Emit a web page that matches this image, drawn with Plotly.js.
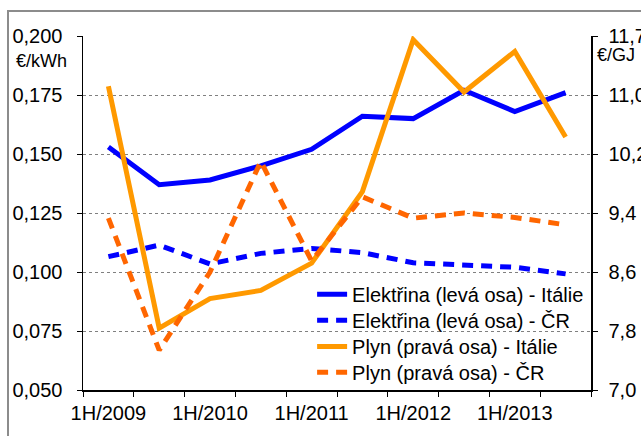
<!DOCTYPE html>
<html>
<head>
<meta charset="utf-8">
<script src="https://cdn.plot.ly/plotly-3.0.1.min.js"></script>
<style>
  html, body { margin: 0; padding: 0; background: #fff; overflow: hidden; }
  #frame { position: absolute; left: 7px; top: 10px; width: 700px; height: 500px;
           border-left: 2px solid #8c8c8c; border-top: 2px solid #8c8c8c; }
  #chart { position: absolute; left: 0; top: 0; width: 641px; height: 436px; }
</style>
</head>
<body>
<div id="frame"></div>
<div id="chart"></div>
<script>
// Categories (half-years)
const categories = ['1H/2009','2H/2009','1H/2010','2H/2010','1H/2011','2H/2011','1H/2012','2H/2012','1H/2013','2H/2013'];
const xLabelShown = ['1H/2009','1H/2010','1H/2011','1H/2012','1H/2013'];

// Electricity prices, €/kWh (left axis)
const elecItaly = [0.153, 0.137, 0.139, 0.145, 0.152, 0.166, 0.165, 0.177, 0.168, 0.176];
const elecCZ    = [0.1065, 0.1114, 0.1034, 0.1079, 0.1100, 0.1082, 0.1039, 0.1028, 0.1020, 0.0992];

// Gas prices, €/GJ (right axis)
const gasItaly = [11.12, 7.84, 8.24, 8.35, 8.72, 9.69, 11.75, 11.04, 11.59, 10.43];
const gasCZ    = [9.33, 7.54, 8.60, 10.10, 8.75, 9.62, 9.33, 9.40, 9.34, 9.24];

// Axis tick labels
const leftTicks = [0.050, 0.075, 0.100, 0.125, 0.150, 0.175, 0.200];
const rightTickVals = [7.0, 7.8, 8.6, 9.4, 10.2, 11.0, 11.8];
const rightTickText = ['7,0', '7,8', '8,6', '9,4', '10,2', '11,0', '11,7'];

const xIdx = categories.map((_, i) => i);
const labelIdx = xLabelShown.map(l => categories.indexOf(l));
const boundaries = categories.map((_, i) => i - 0.5).concat([categories.length - 0.5]);

const FONT = 'Liberation Sans, Arial, sans-serif';

const traces = [
  { x: xIdx, y: elecItaly, name: 'Elektřina (levá osa) - Itálie', type: 'scatter', mode: 'lines',
    line: { color: '#0000FF', width: 5 }, yaxis: 'y', legend: 'legend', text: categories, hoverinfo: 'text+y' },
  { x: xIdx, y: elecCZ, name: 'Elektřina (levá osa) - ČR', type: 'scatter', mode: 'lines',
    line: { color: '#0000FF', width: 5, dash: '11px,8px' }, yaxis: 'y', legend: 'legend2', text: categories, hoverinfo: 'text+y' },
  { x: xIdx, y: gasItaly, name: 'Plyn (pravá osa) - Itálie', type: 'scatter', mode: 'lines',
    line: { color: '#FF9900', width: 5 }, yaxis: 'y2', legend: 'legend3', text: categories, hoverinfo: 'text+y' },
  { x: xIdx, y: gasCZ, name: 'Plyn (pravá osa) - ČR', type: 'scatter', mode: 'lines',
    line: { color: '#FF6600', width: 5, dash: '11px,8px' }, yaxis: 'y2', legend: 'legend4', text: categories, hoverinfo: 'text+y' }
];

function legendAt(y) {
  return { x: 0.451, y: y, xanchor: 'left', yanchor: 'middle', bgcolor: 'rgba(0,0,0,0)',
           font: { family: FONT, size: 20, color: '#000' }, itemwidth: 30 };
}

const layout = {
  width: 641, height: 436,
  paper_bgcolor: 'rgba(0,0,0,0)', plot_bgcolor: 'rgba(0,0,0,0)',
  separators: ', ',
  font: { family: FONT, size: 20, color: '#000' },
  margin: { l: 83, r: 50, t: 36, b: 46, pad: 0 },
  showlegend: true,
  legend: legendAt(0.2706),
  legend2: legendAt(0.1969),
  legend3: legendAt(0.1229),
  legend4: legendAt(0.050),
  xaxis: {
    type: 'linear', range: [-0.5, categories.length - 0.5], fixedrange: true,
    tickmode: 'array', tickvals: labelIdx, ticktext: xLabelShown, ticks: '',
    showgrid: false, zeroline: false, showline: true, linecolor: '#000', linewidth: 1.5,
    ticklabelstandoff: 4,
    tickfont: { family: FONT, size: 20, color: '#000' },
    minor: { tickmode: 'array', tickvals: boundaries, ticks: 'outside', ticklen: 5, tickcolor: '#000', tickwidth: 1, showgrid: false }
  },
  yaxis: {
    range: [0.05, 0.2], tickmode: 'array', tickvals: leftTicks, tickformat: '.3f',
    ticks: 'outside', ticklen: 5, tickcolor: '#000', tickwidth: 1,
    showline: true, linecolor: '#000', linewidth: 1.5,
    showgrid: true, gridcolor: '#808080', gridwidth: 1, griddash: 'dot',
    zeroline: false, ticklabelstandoff: 10,
    tickfont: { family: FONT, size: 20, color: '#000' }
  },
  yaxis2: {
    overlaying: 'y', side: 'right', range: [7.0, 11.8],
    tickmode: 'array', tickvals: rightTickVals, ticktext: rightTickText,
    ticks: 'outside', ticklen: 5, tickcolor: '#000', tickwidth: 1,
    showline: true, linecolor: '#000', linewidth: 1.5,
    showgrid: false, zeroline: false, ticklabelstandoff: 7,
    tickfont: { family: FONT, size: 20, color: '#000' }
  },
  annotations: [
    { text: '€/kWh', xref: 'paper', yref: 'paper', x: -0.081, y: 0.929, xanchor: 'center', yanchor: 'middle',
      showarrow: false, font: { family: FONT, size: 18, color: '#000' } },
    { text: '€/GJ', xref: 'paper', yref: 'paper', x: 1.008, y: 0.945, xanchor: 'left', yanchor: 'middle',
      showarrow: false, font: { family: FONT, size: 18, color: '#000' } }
  ]
};

Plotly.newPlot('chart', traces, layout, { staticPlot: true, displayModeBar: false });
</script>
</body>
</html>
